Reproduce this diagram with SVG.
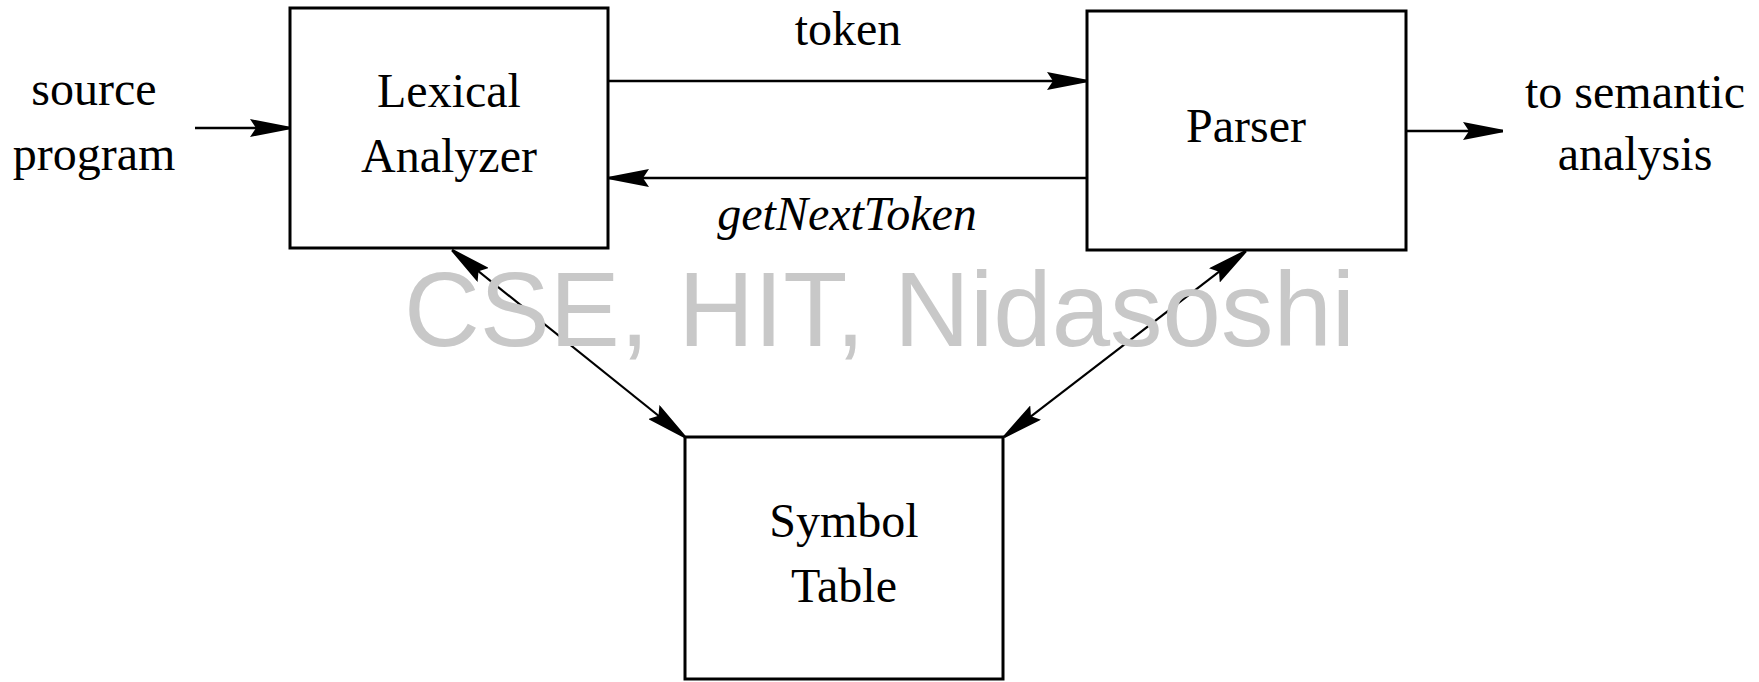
<svg xmlns="http://www.w3.org/2000/svg" width="1759" height="682" viewBox="0 0 1759 682">
  <style>
    .box { fill: #ffffff; stroke: #000000; stroke-width: 3; }
    .lbl { font-family: "Liberation Serif", "Times New Roman", serif; font-size: 48px; fill: #000000; text-anchor: middle; }
    .it { font-style: italic; }
    .conn { stroke: #000000; stroke-width: 2.5; fill: none; }
    .diag { stroke-width: 2.2; }
    .wm { font-family: "Liberation Sans", Arial, sans-serif; font-size: 105px; fill: #c8c8c8; }
  </style>
  <defs>
    <marker id="ah" viewBox="0 0 40 18" markerWidth="40" markerHeight="18" refX="40" refY="9" orient="auto-start-reverse" markerUnits="userSpaceOnUse">
      <path d="M0,0 L40,7.8 L40,10.2 L0,18 L6,9 z" fill="#000000"/>
    </marker>
  </defs>
  <rect width="1759" height="682" fill="#ffffff"/>

  <g id="connectors">
    <line class="conn" x1="195" y1="128" x2="290" y2="128" marker-end="url(#ah)"/>
    <line class="conn" x1="609" y1="81" x2="1087" y2="81" marker-end="url(#ah)"/>
    <line class="conn" x1="1087" y1="178" x2="609" y2="178" marker-end="url(#ah)"/>
    <line class="conn" x1="1406" y1="131" x2="1503" y2="131" marker-end="url(#ah)"/>
    <line class="conn diag" x1="452" y1="250" x2="685" y2="437" marker-start="url(#ah)" marker-end="url(#ah)"/>
    <line class="conn diag" x1="1246" y1="251" x2="1004" y2="437" marker-start="url(#ah)" marker-end="url(#ah)"/>
  </g>

  <g id="lexical-analyzer">
    <rect class="box" x="290" y="8" width="318" height="240"/>
    <text class="lbl" x="449" y="107">Lexical</text>
    <text class="lbl" x="449" y="172">Analyzer</text>
  </g>

  <g id="parser">
    <rect class="box" x="1087" y="11" width="319" height="239"/>
    <text class="lbl" x="1246" y="142">Parser</text>
  </g>

  <g id="symbol-table">
    <rect class="box" x="685" y="437" width="318" height="242"/>
    <text class="lbl" x="844" y="537">Symbol</text>
    <text class="lbl" x="844" y="602">Table</text>
  </g>

  <g id="labels">
    <text class="lbl" x="94" y="105">source</text>
    <text class="lbl" x="94" y="170">program</text>
    <text class="lbl" x="848" y="45">token</text>
    <text class="lbl it" x="847" y="230">getNextToken</text>
    <text class="lbl" x="1635" y="108">to semantic</text>
    <text class="lbl" x="1635" y="170">analysis</text>
  </g>

  <text class="wm" x="404" y="346">CSE, HIT, Nidasoshi</text>
</svg>
